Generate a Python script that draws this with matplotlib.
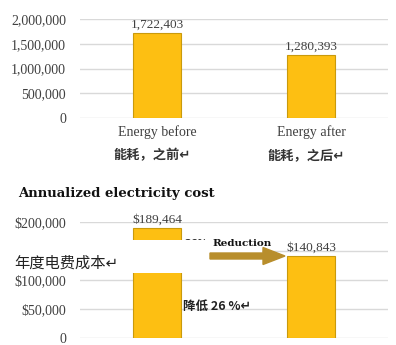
import matplotlib
matplotlib.use("Agg")
import matplotlib.pyplot as plt
from matplotlib.patches import Rectangle, FancyArrow
from matplotlib.ticker import FuncFormatter

# --- DATA ---
energy_labels = ["Energy before", "Energy after"]
energy_cn = ["能耗，之前", "能耗，之后"]
energy_values = [1722403, 1280393]

cost_values = [189464, 140843]
reduction_pct = 26

# --- STYLE ---
W, H = 396, 345
BAR_FACE = "#FDBF12"
BAR_EDGE = "#C99A0C"
GRID = "#D9D9D9"
TICK_COL = "#404040"
SERIF = "Liberation Serif"
CJK = ["Noto Sans CJK SC", "DejaVu Sans"]

fig = plt.figure(figsize=(W / 100, H / 100), dpi=100)


def box(x0, y0, x1, y1):
    # pixel box (top-left origin) -> figure fraction rect
    return [x0 / W, 1 - y1 / H, (x1 - x0) / W, (y1 - y0) / H]


def fx(x):
    return x / W


def fy(y):
    return 1 - y / H


def style_axes(ax, ymax, step, fmt):
    ax.set_xlim(-0.5, 1.5)
    ax.set_ylim(0, ymax)
    ax.set_yticks(range(0, ymax + 1, step))
    ax.yaxis.set_major_formatter(FuncFormatter(fmt))
    ax.grid(axis="y", color=GRID, linewidth=1)
    ax.set_axisbelow(True)
    for s in ax.spines.values():
        s.set_visible(False)
    ax.tick_params(axis="y", length=0, pad=10, labelsize=10, labelcolor=TICK_COL)
    ax.tick_params(axis="x", length=0, bottom=False, labelbottom=False)
    for lab in ax.get_yticklabels():
        lab.set_fontfamily(SERIF)


# --- TOP: energy use ---
ax1 = fig.add_axes(box(80, 19, 388, 118))
style_axes(ax1, 2000000, 500000, lambda v, p: f"{int(v):,}")
ax1.bar(range(len(energy_values)), energy_values, width=0.31,
        color=BAR_FACE, edgecolor=BAR_EDGE, linewidth=0.8)
for i, v in enumerate(energy_values):
    ax1.annotate(f"{v:,}", (i, v), xytext=(0, 1.5), textcoords="offset points",
                 ha="center", va="bottom", fontsize=9.5, family=SERIF,
                 color=TICK_COL)
for i, (en, cn) in enumerate(zip(energy_labels, energy_cn)):
    cx = 157 + i * 154
    fig.text(fx(cx), fy(132), en, ha="center", va="center", fontsize=10,
             family=SERIF, color=TICK_COL)
    fig.text(fx(cx - 5), fy(155), cn + "↵", ha="center", va="center",
             fontsize=9.5, family=CJK, fontweight="bold", color="#333333")

# --- BOTTOM: annualized cost ---
fig.text(fx(18), fy(194), "Annualized electricity cost", ha="left",
         va="center", fontsize=9.5, family="DejaVu Serif", fontweight="bold",
         color="#111111")

ax2 = fig.add_axes(box(80, 222, 388, 338))
style_axes(ax2, 200000, 50000,
           lambda v, p: "0" if v == 0 else f"${int(v):,}")
ax2.bar(range(len(cost_values)), cost_values, width=0.31,
        color=BAR_FACE, edgecolor=BAR_EDGE, linewidth=0.8)
for i, v in enumerate(cost_values):
    ax2.annotate(f"${v:,}", (i, v), xytext=(0, 1.5), textcoords="offset points",
                 ha="center", va="bottom", fontsize=9.5, family=SERIF,
                 color=TICK_COL)
# the $150,000 label sits under the white panel
fig.canvas.draw()
for lab in ax2.get_yticklabels():
    if lab.get_text() == "$150,000":
        lab.set_visible(False)

# callout partly hidden under the white panel
fig.text(fx(184), fy(244), f"{reduction_pct}%", ha="left", va="center",
         fontsize=7, fontweight="bold", color="#333333", zorder=4)
fig.add_artist(Rectangle((0, fy(273)), fx(262), fy(240) - fy(273),
                         transform=fig.transFigure, facecolor="white",
                         edgecolor="none", zorder=5))

fig.text(fx(14), fy(263), "年度电费成本↵", ha="left", va="center",
         fontsize=11, family=CJK, color="#222222", zorder=6)
fig.text(fx(212), fy(243), "Reduction", ha="left", va="center",
         fontsize=7.5, family="DejaVu Serif", fontweight="bold",
         color="#111111", zorder=6)
fig.text(fx(183), fy(306), f"降低 {reduction_pct} %↵", ha="left", va="center",
         fontsize=9, family=CJK, fontweight="bold", color="#222222", zorder=6)

# arrow pointing at the reduced bar (inches, 100 px per inch)
fig.add_artist(FancyArrow(2.10, (H - 256) / 100, 0.75, 0, width=0.06,
                          head_width=0.17, head_length=0.22,
                          length_includes_head=True, color="#B88E2C",
                          transform=fig.dpi_scale_trans, zorder=6))

fig.savefig("out.png", dpi=100)
